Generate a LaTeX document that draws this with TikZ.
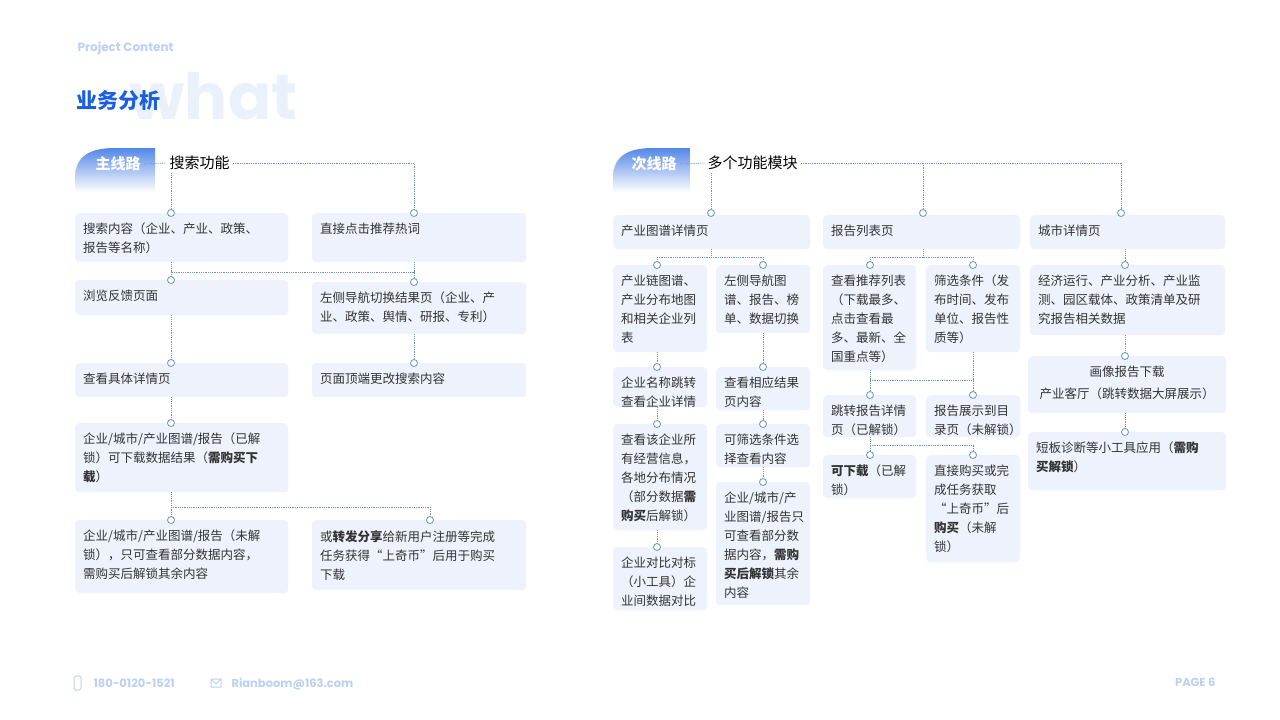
\documentclass[tikz,border=0pt]{standalone}
\usepackage{fontspec}
\setmainfont{Noto Sans CJK SC}
\newfontfamily\latinf{Poppins}
\usetikzlibrary{calc}
\definecolor{cardc}{HTML}{EDF2FC}
\definecolor{linkc}{HTML}{6A93C4}
\definecolor{titlec}{HTML}{1A5FE0}
\definecolor{paleblue}{HTML}{BCD0F2}
\definecolor{textc}{HTML}{333333}
\tikzset{
  card/.style={fill=cardc,rounded corners=4pt,draw=none,inner sep=0pt},
  txt/.style={anchor=north west,align=left,inner sep=0pt,text=textc,font=\fontsize{12.5}{19}\selectfont},
  link/.style={draw=linkc,densely dotted,line width=0.8pt},
  dot/.style={circle,draw=linkc,fill=white,line width=0.8pt,inner sep=0pt,minimum size=7pt},
}
% card: name, left, top, width, height, text
\newcommand\card[6]{%
  \node[card,minimum width=#4,minimum height=#5,anchor=north west] (#1) at (#2,#3) {};
  \node[txt] at ([shift={(8,10)}]#1.north west) {#6};}
\begin{document}
\begin{tikzpicture}[x=1pt,y=-1pt]
\useasboundingbox (0,0) rectangle (1280,720);

% heading
\node[anchor=west,text=paleblue!30,font=\latinf\bfseries\fontsize{64}{64}\selectfont] (what) at (126,96) {what};
\node[anchor=west,text=paleblue,font=\latinf\bfseries\fontsize{12}{12}\selectfont] (proj) at (74,48) {Project Content};
\node[anchor=west,text=titlec,font=\bfseries\fontsize{21}{21}\selectfont] (head) at (73,101) {业务分析};

% tabs
\shade[top color=titlec!75,bottom color=white] (75,192) -- (75,178) .. controls (75,156) and (90,148) .. (115,148) -- (155,148) -- (155,192) -- cycle;
\node[text=white,font=\bfseries\fontsize{15}{15}\selectfont] (tabL) at (118,164) {主线路};
\node[anchor=west,font=\fontsize{15}{15}\selectfont] (mainT) at (166,163) {搜索功能};
\shade[top color=titlec!75,bottom color=white] (613,192) -- (613,178) .. controls (613,156) and (628,148) .. (653,148) -- (690,148) -- (690,192) -- cycle;
\node[text=white,font=\bfseries\fontsize{15}{15}\selectfont] (tabR) at (654,164) {次线路};
\node[anchor=west,font=\fontsize{15}{15}\selectfont] (subT) at (704,163) {多个功能模块};

% left cards
\card{L1}{75}{213}{213}{49}{搜索内容（企业、产业、政策、\\报告等名称）}
\card{R1}{312}{213}{214}{49}{直接点击推荐热词}
\card{L2}{75}{280}{213}{35}{浏览反馈页面}
\card{R2}{312}{282}{214}{52}{左侧导航切换结果页（企业、产\\业、政策、舆情、研报、专利）}
\card{L3}{75}{363}{213}{34}{查看具体详情页}
\card{R3}{312}{363}{214}{34}{页面顶端更改搜索内容}
\card{L4}{75}{423}{213}{69}{企业/城市/产业图谱/报告（已解\\锁）可下载数据结果（\textbf{需购买下}\\\textbf{载}）}
\card{L5}{75}{520}{213}{73}{企业/城市/产业图谱/报告（未解\\锁），只可查看部分数据内容，\\需购买后解锁其余内容}
\card{R5}{312}{520}{214}{70}{或\textbf{转发分享}给新用户注册等完成\\任务获得“上奇币”后用于购买\\下载}

% right cards
\card{A}{613}{215}{197}{34}{产业图谱详情页}
\card{B}{823}{215}{197}{34}{报告列表页}
\card{C}{1030}{215}{195}{34}{城市详情页}
\card{A1}{613}{265}{94}{87}{产业链图谱、\\产业分布地图\\和相关企业列\\表}
\card{A2}{716}{265}{94}{68}{左侧导航图\\谱、报告、榜\\单、数据切换}
\card{A3}{613}{367}{94}{40}{企业名称跳转\\查看企业详情}
\card{A4}{716}{367}{94}{43}{查看相应结果\\页内容}
\card{A5}{613}{424}{94}{106}{查看该企业所\\有经营信息，\\各地分布情况\\（部分数据\textbf{需}\\\textbf{购买}后解锁）}
\card{A6}{716}{424}{94}{43}{可筛选条件选\\择查看内容}
\card{A7}{613}{547}{94}{63}{企业对比对标\\（小工具）企\\业间数据对比}
\card{A8}{716}{482}{94}{123}{企业/城市/产\\业图谱/报告只\\可查看部分数\\据内容，\textbf{需购}\\\textbf{买后解锁}其余\\内容}
\card{B1}{823}{265}{93}{105}{查看推荐列表\\（下载最多、\\点击查看最\\多、最新、全\\国重点等）}
\card{B2}{926}{265}{94}{87}{筛选条件（发\\布时间、发布\\单位、报告性\\质等）}
\card{B3}{823}{395}{93}{42}{跳转报告详情\\页（已解锁）}
\card{B4}{926}{395}{94}{42}{报告展示到目\\录页（未解锁）}
\card{B5}{823}{455}{93}{43}{\textbf{可下载}（已解\\锁）}
\card{B6}{926}{455}{94}{107}{直接购买或完\\成任务获取\\“上奇币”后\\\textbf{购买}（未解\\锁）}
\card{C1}{1030}{265}{195}{70}{经济运行、产业分析、产业监\\测、园区载体、政策清单及研\\究报告相关数据}
\node[card,minimum width=198,minimum height=57,anchor=north west] (C2) at (1028,356) {};
\node[txt,anchor=north] at ([shift={(0,10)}]C2.north) {画像报告下载};
\node[txt,anchor=north] at ([shift={(0,32)}]C2.north) {产业客厅（跳转数据大屏展示）};
\card{C3}{1028}{432}{198}{58}{短板诊断等小工具应用（\textbf{需购}\\\textbf{买解锁}）}

% dots
\foreach \n/\x/\y in {dL1/171/213, dR1/414/213, dL2/171/280, dR2/414/282, dL3/171/363, dR3/414/363,
  dL4/171/423, dL5/171/520, dR5/430/520, dA/711/213, dB/923/213, dC/1121/213,
  dA1/657/265, dA2/763/265, dA3/657/367, dA4/763/367, dA5/657/424, dA6/763/424, dA7/657/547, dA8/763/482,
  dB1/870/265, dB2/973/265, dB3/870/395, dB4/973/395, dB5/870/455, dB6/973/455,
  dC1/1125/265, dC2/1125/356, dC3/1125/432}
  \node[dot] (\n) at (\x,\y) {};

% connectors, left
\draw[link] (tabL.east) -- (mainT.west);
\draw[link] (mainT.east) -| (dR1);
\draw[link] (dL1 |- mainT.south) -- (dL1);
\draw[link] (dL1 |- L1.south) -- (171,272) -| (dR2);
\draw[link] (dR1 |- R1.south) -- (414,272);
\draw[link] (171,272) -- (dL2);
\draw[link] (dL2 |- L2.south) -- (dL3);
\draw[link] (dR2 |- R2.south) -- (dR3);
\draw[link] (dL3 |- L3.south) -- (dL4);
\draw[link] (dL4 |- L4.south) -- (dL5);
\draw[link] (171,507) -| (dR5);

% connectors, right
\draw[link] (tabR.east) -- (subT.west);
\draw[link] (subT.east) -| (dC);
\draw[link] (dB |- subT.east) -- (dB);
\draw[link] (dA |- subT.south) -- (dA);
\draw[link] (dA |- A.south) -- (711,257);
\draw[link] (657,257) -- (763,257);
\draw[link] (657,257) -- (dA1);
\draw[link] (763,257) -- (dA2);
\draw[link] (dA1 |- A1.south) -- (dA3);
\draw[link] (dA3 |- A3.south) -- (dA5);
\draw[link] (dA5 |- A5.south) -- (dA7);
\draw[link] (dA2 |- A2.south) -- (dA4);
\draw[link] (dA4 |- A4.south) -- (dA6);
\draw[link] (dA6 |- A6.south) -- (dA8);
\draw[link] (dB |- B.south) -- (923,257);
\draw[link] (870,257) -- (973,257);
\draw[link] (870,257) -- (dB1);
\draw[link] (973,257) -- (dB2);
\draw[link] (dB1 |- B1.south) -- (dB3);
\draw[link] (dB2 |- B2.south) -- (dB4);
\draw[link] (870,380) -- (973,380);
\draw[link] (dB3 |- B3.south) -- (dB5);
\draw[link] (870,445) -| (dB6);
\draw[link] (dC1 |- C.south) -- (dC1);
\draw[link] (dC1 |- C1.south) -- (dC2);
\draw[link] (dC2 |- C2.south) -- (dC3);

% footer
\draw[paleblue,line width=1pt,rounded corners=1.5pt] (74,676) rectangle (81,690);
\node[anchor=west,text=paleblue,font=\latinf\bfseries\fontsize{11.5}{12}\selectfont] (phone) at (90,683) {180-0120-1521};
\draw[paleblue,line width=1pt] (211,679) rectangle (221,687) (211,679) -- (216,684) -- (221,679);
\node[anchor=west,text=paleblue,font=\latinf\bfseries\fontsize{11.5}{12}\selectfont] (mail) at (228,684) {Rianboom@163.com};
\node[anchor=east,text=paleblue,font=\latinf\bfseries\fontsize{11.5}{12}\selectfont] (page) at (1219,682) {PAGE 6};
\end{tikzpicture}
\end{document}
